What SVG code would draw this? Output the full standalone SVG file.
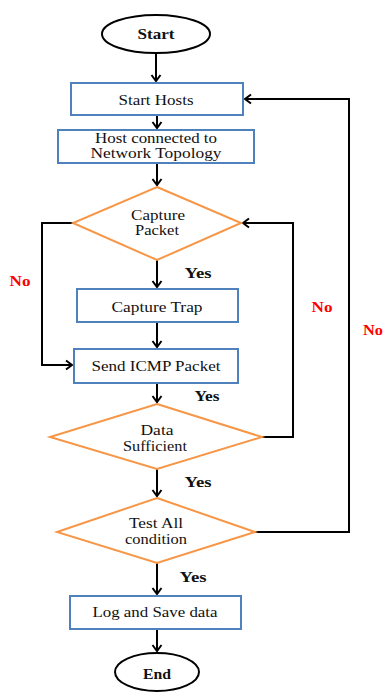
<svg xmlns="http://www.w3.org/2000/svg" width="383" height="692" viewBox="0 0 383 692">
<defs>
<marker id="ah" markerWidth="12" markerHeight="12" refX="9" refY="6" orient="auto" markerUnits="userSpaceOnUse">
<path d="M3,1.5 L9,6 L3,10.5" fill="none" stroke="#000" stroke-width="2"/>
</marker>
</defs>
<style>
.box{fill:#fff;stroke:#4F81BD;stroke-width:2}
.dia{fill:#fff;stroke:#F79646;stroke-width:2}
.term{fill:#fff;stroke:#000;stroke-width:2}
.t{font-family:"Liberation Serif","Times New Roman",serif;font-size:14px;fill:#111;text-anchor:middle}
.b{font-weight:bold;font-size:15px}
.y{font-family:"Liberation Serif","Times New Roman",serif;font-size:14px;font-weight:bold;fill:#111;text-anchor:middle}
.n{font-family:"Liberation Serif","Times New Roman",serif;font-size:15px;font-weight:bold;fill:#FF0000;text-anchor:middle}
.c{fill:none;stroke:#000;stroke-width:2}
</style>
<rect width="383" height="692" fill="#fff"/>
<g id="connectors">
<path class="c" d="M156,53 V81" marker-end="url(#ah)"/>
<path class="c" d="M157,115 V128" marker-end="url(#ah)"/>
<path class="c" d="M157,163 V185" marker-end="url(#ah)"/>
<path class="c" d="M157,260 V287" marker-end="url(#ah)"/>
<path class="c" d="M157,322 V347" marker-end="url(#ah)"/>
<path class="c" d="M157,383 V402" marker-end="url(#ah)"/>
<path class="c" d="M157,469 V496" marker-end="url(#ah)"/>
<path class="c" d="M157,563 V594" marker-end="url(#ah)"/>
<path class="c" d="M157,629 V651" marker-end="url(#ah)"/>
<path class="c" d="M73,223 H42 V365 H72" marker-end="url(#ah)"/>
<path class="c" d="M262,437 H293 V223 H243" marker-end="url(#ah)"/>
<path class="c" d="M255,532 H349 V99 H245" marker-end="url(#ah)"/>
</g>
<g id="start"><ellipse class="term" cx="156" cy="34" rx="54" ry="19"/><text class="t b" x="156" y="39" textLength="37" lengthAdjust="spacingAndGlyphs">Start</text></g>
<g id="start-hosts"><rect class="box" x="71" y="83" width="172" height="32"/><text class="t" x="156" y="105" textLength="75" lengthAdjust="spacingAndGlyphs">Start Hosts</text></g>
<g id="host-connected"><rect class="box" x="58" y="130" width="196" height="33"/><text class="t" x="156" y="143" textLength="122" lengthAdjust="spacingAndGlyphs">Host connected to</text><text class="t" x="156" y="158" textLength="131" lengthAdjust="spacingAndGlyphs">Network Topology</text></g>
<g id="capture-packet"><polygon class="dia" points="157,187 241,223 157,260 73,223"/><text class="t" x="158" y="220" textLength="54" lengthAdjust="spacingAndGlyphs">Capture</text><text class="t" x="157" y="235" textLength="44" lengthAdjust="spacingAndGlyphs">Packet</text></g>
<g id="capture-trap"><rect class="box" x="77" y="289" width="161" height="33"/><text class="t" x="157" y="312" textLength="91" lengthAdjust="spacingAndGlyphs">Capture Trap</text></g>
<g id="send-icmp"><rect class="box" x="74" y="349" width="164" height="34"/><text class="t" x="156" y="371" textLength="129" lengthAdjust="spacingAndGlyphs">Send ICMP Packet</text></g>
<g id="data-sufficient"><polygon class="dia" points="157,404 262,437 157,469 50,437"/><text class="t" x="157" y="435" textLength="33" lengthAdjust="spacingAndGlyphs">Data</text><text class="t" x="155" y="451" textLength="64" lengthAdjust="spacingAndGlyphs">Sufficient</text></g>
<g id="test-all"><polygon class="dia" points="157,498 255,532 157,563 57,532"/><text class="t" x="156" y="528" textLength="54" lengthAdjust="spacingAndGlyphs">Test All</text><text class="t" x="156" y="544" textLength="62" lengthAdjust="spacingAndGlyphs">condition</text></g>
<g id="log-save"><rect class="box" x="70" y="596" width="171" height="33"/><text class="t" x="155" y="617" textLength="125" lengthAdjust="spacingAndGlyphs">Log and Save data</text></g>
<g id="end"><ellipse class="term" cx="157" cy="672" rx="42" ry="19"/><text class="t b" x="157" y="679" textLength="28" lengthAdjust="spacingAndGlyphs">End</text></g>
<g id="labels">
<text class="y" x="198" y="278" textLength="27" lengthAdjust="spacingAndGlyphs">Yes</text>
<text class="y" x="207" y="401" textLength="25" lengthAdjust="spacingAndGlyphs">Yes</text>
<text class="y" x="198" y="487" textLength="27" lengthAdjust="spacingAndGlyphs">Yes</text>
<text class="y" x="193" y="582" textLength="27" lengthAdjust="spacingAndGlyphs">Yes</text>
<text class="n" x="20" y="286" textLength="21" lengthAdjust="spacingAndGlyphs">No</text>
<text class="n" x="322" y="312" textLength="21" lengthAdjust="spacingAndGlyphs">No</text>
<text class="n" x="373" y="335" textLength="20" lengthAdjust="spacingAndGlyphs">No</text>
</g>
</svg>
